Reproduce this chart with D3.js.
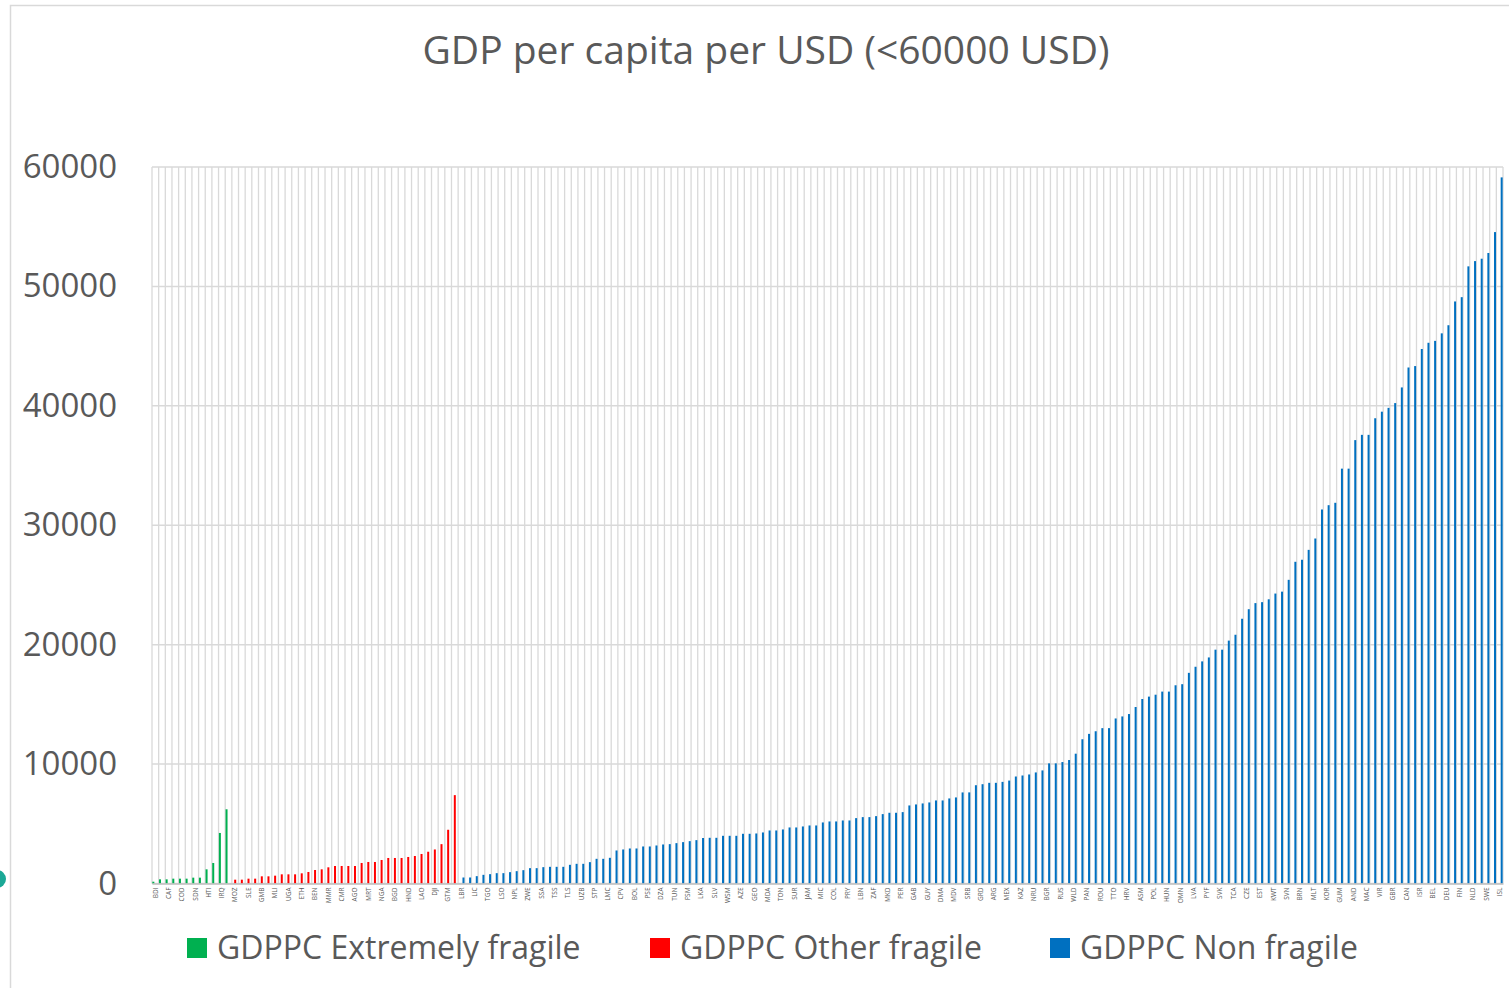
<!DOCTYPE html>
<html>
<head>
<meta charset="utf-8">
<script src="https://cdn.jsdelivr.net/npm/d3@7/dist/d3.min.js"></script>
<style>
  html, body { margin: 0; padding: 0; background: #ffffff; }
  svg { display: block; font-family: "Open Sans", "Noto Sans", sans-serif; }
</style>
</head>
<body>
<svg id="chart" width="1509" height="988"></svg>
<script>
// GDP per capita (USD), economies sorted ascending within the plot,
// grouped by fragility class. Each value is one category on the x axis.
const extremelyFragile = [150, 349, 349, 405, 405, 405, 489, 489, 1187, 1718, 4232, 6215];

const otherFragile = [321, 321, 405, 405, 601, 601, 656, 768, 768, 768, 852, 964,
  1131, 1187, 1355, 1466, 1466, 1466, 1466, 1718, 1802, 1802, 1969, 2137, 2137, 2137,
  2221, 2304, 2472, 2660, 2849, 3296, 4500, 7400];

const nonFragile = [503, 503, 615, 726, 782, 866, 866, 950, 1034, 1117, 1285, 1285,
  1369, 1397, 1397, 1397, 1564, 1648, 1648, 1788, 2067, 2067, 2151, 2765, 2849, 2933,
  2933, 3101, 3101, 3184, 3268, 3296, 3380, 3464, 3547, 3631, 3810, 3827, 3827, 3994,
  3994, 3994, 4162, 4162, 4190, 4274, 4441, 4441, 4525, 4693, 4693, 4777, 4860, 4860,
  5112, 5196, 5196, 5279, 5279, 5475, 5559, 5559, 5642, 5810, 5922, 5922, 5978, 6536,
  6620, 6704, 6788, 6955, 6955, 7123, 7207, 7626, 7630, 8230, 8315, 8430, 8430, 8510,
  8620, 8960, 9045, 9130, 9300, 9470, 10060, 10060, 10170, 10340, 10870, 12080, 12530,
  12750, 13010, 13010, 13820, 13990, 14190, 14780, 15450, 15650, 15810, 16070, 16070,
  16600, 16690, 17640, 18150, 18600, 18930, 19580, 19580, 20340, 20830, 22170, 22970,
  23480, 23560, 23800, 24280, 24440, 25430, 26940, 27110, 27940, 28890, 31320, 31680,
  31880, 34740, 34740, 37130, 37570, 37570, 38960, 39510, 39830, 40230, 41540, 43210,
  43330, 44760, 45280, 45440, 46070, 46750, 48740, 49100, 51680, 52120, 52320, 52800,
  54550, 59130];

// Category labels shown on the axis (every second category is labelled).
const tickLabels = ["BDI", "CAF", "COD", "SDN", "HTI", "IRQ", "MOZ", "SLE", "GMB", "MLI",
  "UGA", "ETH", "BEN", "MMR", "CMR", "AGO", "MRT", "NGA", "BGD", "HND", "LAO", "DJI",
  "GTM", "LBR", "LIC", "TGO", "LSO", "NPL", "ZWE", "SSA", "TSS", "TLS", "UZB", "STP",
  "LMC", "CPV", "BOL", "PSE", "DZA", "TUN", "FSM", "LKA", "SLV", "WSM", "AZE", "GEO",
  "MDA", "TON", "SUR", "JAM", "MIC", "COL", "PRY", "LBN", "ZAF", "MKD", "PER", "GAB",
  "GUY", "DMA", "MDV", "SRB", "GRD", "ARG", "MEX", "KAZ", "NRU", "BGR", "RUS", "WLD",
  "PAN", "ROU", "TTO", "HRV", "ASM", "POL", "HUN", "OMN", "LVA", "PYF", "SVK", "TCA",
  "CZE", "EST", "KWT", "SVN", "BRN", "MLT", "KOR", "GUM", "AND", "MAC", "VIR", "GBR",
  "CAN", "ISR", "BEL", "DEU", "FIN", "NLD", "SWE", "ISL"];

const yTicks = [0, 10000, 20000, 30000, 40000, 50000, 60000];

const seriesNames = ["GDPPC Extremely fragile", "GDPPC Other fragile", "GDPPC Non fragile"];
const seriesColors = ["#00b050", "#ff0000", "#0070c0"];
const seriesData = [extremelyFragile, otherFragile, nonFragile];

// Flatten into one row per category; each category belongs to exactly one series.
const rows = [];
seriesData.forEach((vals, s) => {
  vals.forEach(v => rows.push({ index: rows.length, series: s, value: v }));
});
const nCat = rows.length;

const svg = d3.select("#chart");
const W = 1509, H = 988;
const plot = { left: 152, right: 1503, top: 167, bottom: 883.5 };
const textColor = "#595959";
const gridColor = "#d9d9d9";

svg.append("rect").attr("width", W).attr("height", H).attr("fill", "#ffffff");

// Chart frame
svg.append("path")
  .attr("d", `M10.5,${H} V5.5 H${W}`)
  .attr("fill", "none").attr("stroke", gridColor).attr("stroke-width", 1.5);

// Slide decoration at the left edge
svg.append("circle").attr("cx", -3).attr("cy", 879).attr("r", 9).attr("fill", "#1ba896");

const x0 = d3.scaleBand()
  .domain(d3.range(nCat))
  .range([plot.left, plot.right])
  .paddingInner(0).paddingOuter(0);

const x1 = d3.scaleBand()
  .domain([0, 1, 2])
  .range([0, x0.bandwidth()])
  .paddingInner(0).paddingOuter(0.167);

const y = d3.scaleLinear().domain([0, 60000]).range([plot.bottom, plot.top]);

// Vertical gridlines at category boundaries
const boundaries = d3.range(nCat).map(i => x0(i)).concat([plot.right]);
svg.append("g")
  .selectAll("line").data(boundaries).join("line")
  .attr("x1", d => d).attr("x2", d => d)
  .attr("y1", plot.top).attr("y2", plot.bottom)
  .attr("stroke", gridColor).attr("stroke-width", 1.3);

// Horizontal gridlines
svg.append("g")
  .selectAll("line").data(yTicks).join("line")
  .attr("x1", plot.left).attr("x2", plot.right)
  .attr("y1", d => y(d)).attr("y2", d => y(d))
  .attr("stroke", gridColor).attr("stroke-width", 1.5);

// Bars
svg.append("g")
  .selectAll("rect").data(rows).join("rect")
  .attr("x", d => x0(d.index) + x1(d.series))
  .attr("width", x1.bandwidth())
  .attr("y", d => y(d.value))
  .attr("height", d => y(0) - y(d.value))
  .attr("fill", d => seriesColors[d.series]);

// Y axis
const yAxis = d3.axisLeft(y).tickValues(yTicks).tickSize(0).tickPadding(35)
  .tickFormat(d3.format("d"));
const gy = svg.append("g").attr("transform", `translate(${plot.left},0)`).call(yAxis);
gy.select(".domain").remove();
gy.selectAll("text")
  .attr("fill", textColor)
  .style("font-size", "33px")
  .style("font-family", "'Open Sans', sans-serif");

// X axis
const xAxis = d3.axisBottom(x0)
  .tickValues(d3.range(0, nCat, 2))
  .tickSize(0)
  .tickFormat(i => tickLabels[i / 2]);
const gx = svg.append("g").attr("transform", `translate(0,${plot.bottom})`).call(xAxis);
gx.select(".domain").attr("stroke", "#bfbfbf").attr("stroke-width", 1.5);
gx.selectAll("text")
  .attr("fill", textColor)
  .style("font-size", "6.5px")
  .style("font-family", "'Open Sans', sans-serif")
  .attr("transform", "rotate(-90)")
  .attr("text-anchor", "end")
  .attr("x", -4)
  .attr("y", 0)
  .attr("dy", "0.35em");

// Title
svg.append("text")
  .attr("x", 766).attr("y", 64)
  .attr("text-anchor", "middle")
  .attr("fill", textColor)
  .style("font-size", "39px")
  .text("GDP per capita per USD (<60000 USD)");

// Legend
const legendX = [187, 650, 1050];
const legend = svg.append("g");
seriesNames.forEach((name, i) => {
  legend.append("rect")
    .attr("x", legendX[i]).attr("y", 938)
    .attr("width", 20).attr("height", 20)
    .attr("fill", seriesColors[i]);
  legend.append("text")
    .attr("x", legendX[i] + 30).attr("y", 948)
    .attr("dy", "0.35em")
    .attr("fill", textColor)
    .style("font-size", "32px")
    .text(name);
});
</script>
</body>
</html>
